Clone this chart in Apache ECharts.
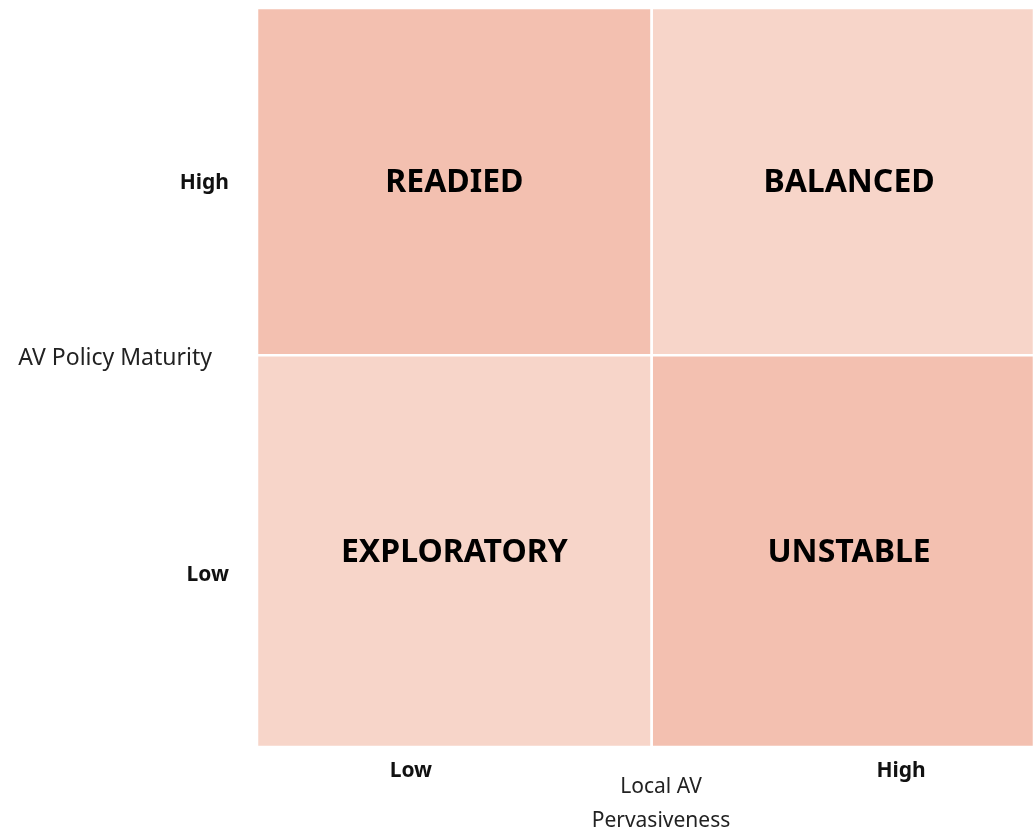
<!DOCTYPE html>
<html>
<head>
<meta charset="utf-8">
<script src="https://cdn.jsdelivr.net/npm/echarts@6/dist/echarts.min.js"></script>
<style>
  html, body { margin: 0; padding: 0; background: #fff; }
  #chart { width: 1034px; height: 832px; }
</style>
</head>
<body>
<div id="chart"></div>
<script>
// quadrant boundaries on a 0-10 scale
const X_EDGES = [0, 5.08, 10]
const Y_EDGES = [0, 5.3, 10]
// [xIndex, yIndex, shade]  shade 1 = darker
const CELLS = [
  [0, 1, 1],
  [1, 1, 0],
  [0, 0, 0],
  [1, 0, 1],
]
const QUAD_LABELS = [
  [2.54, 7.63, 'READIED'],
  [7.62, 7.63, 'BALANCED'],
  [2.54, 2.62, 'EXPLORATORY'],
  [7.62, 2.62, 'UNSTABLE'],
]
const X_TICKS = [1.98, 8.29]
const X_TICK_TEXT = ['Low', 'High']
const Y_TICKS = [2.33, 7.63]
const Y_TICK_TEXT = ['Low', 'High']
const SHADES = ['#F7D5C9', '#F3C0B0']

const FONT = 'Noto Sans'

const chart = echarts.init(document.getElementById('chart'))

chart.setOption({
  animation: false,
  grid: { left: 257, right: 0, top: 8, bottom: 85, outerBoundsMode: 'none', containLabel: false },
  xAxis: {
    type: 'value',
    min: 0,
    max: 10,
    name: 'Local AV\nPervasiveness',
    nameLocation: 'middle',
    nameGap: 23,
    nameMoveOverlap: false,
    nameTextStyle: {
      fontFamily: FONT, fontSize: 21, color: '#222', lineHeight: 34,
      padding: [0, 0, 0, 31], verticalAlign: 'top',
    },
    axisLine: { show: false },
    axisTick: { show: false },
    splitLine: { show: false },
    axisLabel: {
      customValues: X_TICKS,
      margin: 14,
      fontFamily: FONT, fontSize: 21, fontWeight: 'bold', color: '#111',
      formatter: (v) => X_TICK_TEXT[X_TICKS.indexOf(v)] ?? '',
    },
  },
  yAxis: {
    type: 'value',
    min: 0,
    max: 10,
    // trailing blank line lifts the name a little above the middle
    name: 'AV Policy Maturity\n ',
    nameLocation: 'middle',
    nameRotate: 0,
    nameGap: 45,
    nameMoveOverlap: false,
    nameTextStyle: {
      fontFamily: FONT, fontSize: 23, color: '#222', lineHeight: 39,
    },
    axisLine: { show: false },
    axisTick: { show: false },
    splitLine: { show: false },
    axisLabel: {
      customValues: Y_TICKS,
      margin: 28,
      fontFamily: FONT, fontSize: 21, fontWeight: 'bold', color: '#111',
      formatter: (v) => Y_TICK_TEXT[Y_TICKS.indexOf(v)] ?? '',
    },
  },
  series: [
    {
      type: 'custom',
      data: CELLS,
      renderItem: (params, api) => {
        const xi = api.value(0)
        const yi = api.value(1)
        const p0 = api.coord([X_EDGES[xi], Y_EDGES[yi + 1]])
        const p1 = api.coord([X_EDGES[xi + 1], Y_EDGES[yi]])
        return {
          type: 'rect',
          shape: { x: p0[0], y: p0[1], width: p1[0] - p0[0], height: p1[1] - p0[1] },
          style: { fill: SHADES[api.value(2)], stroke: '#fff', lineWidth: 2.5 },
        }
      },
      silent: true,
    },
    {
      type: 'scatter',
      data: QUAD_LABELS,
      symbolSize: 0,
      silent: true,
      itemStyle: { opacity: 1 },
      label: {
        show: true,
        position: 'inside',
        formatter: (p) => p.data[2],
        fontFamily: FONT, fontSize: 32, fontWeight: 'bold', color: '#000', opacity: 1,
      },
    },
  ],
})
</script>
</body>
</html>
